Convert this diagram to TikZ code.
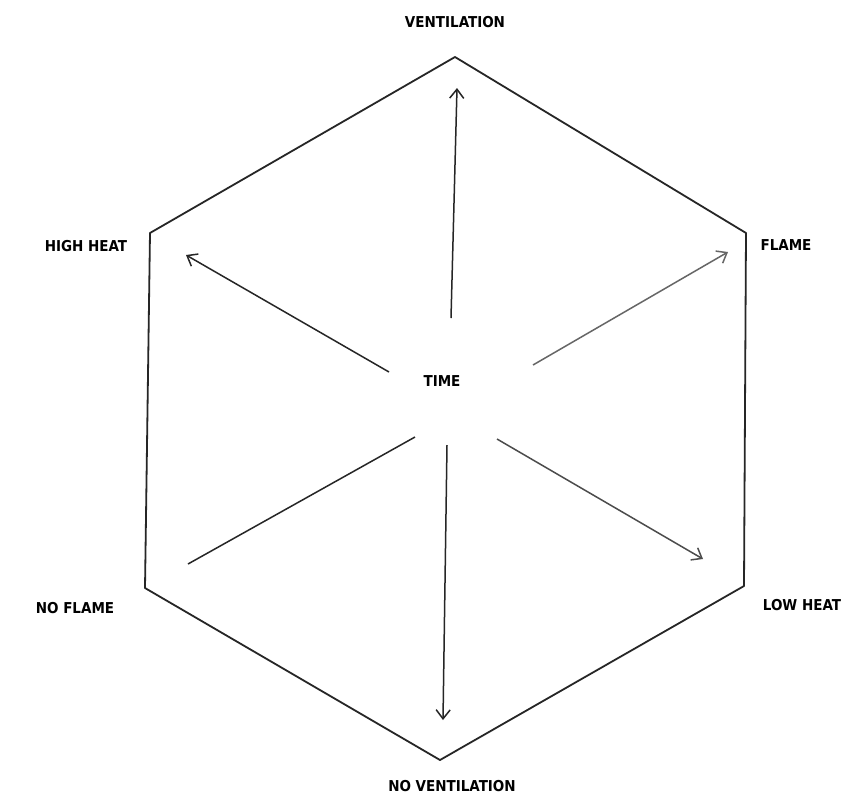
\documentclass[tikz,border=0pt]{standalone}
\usepackage{fontspec}
\newfontfamily\lbl{DejaVu Sans Condensed}[BoldFont={DejaVu Sans Condensed Bold}]
\usetikzlibrary{arrows.meta}
\begin{document}
\begin{tikzpicture}[x=1pt,y=-1pt,
  hexline/.style={line width=1.8pt,black!85},
  spoke/.style={line width=1.5pt,black!85},
  arr/.style={spoke,-{Straight Barb[length=9pt,width=14pt,line width=1.5pt]}},
  lbl/.style={font=\lbl\bfseries\fontsize{15}{16}\selectfont,inner sep=0pt}]
\useasboundingbox (0,0) rectangle (841,796);
\fill[white] (0,0) rectangle (841,796);
% hexagon vertices
\coordinate (T) at (455,57);
\coordinate (UR) at (746,233);
\coordinate (LR) at (744,586);
\coordinate (B) at (440,760);
\coordinate (LL) at (145,588);
\coordinate (UL) at (150,233);
\draw[hexline,line join=round] (T) -- (UR) -- (LR) -- (B) -- (LL) -- (UL) -- cycle;
% labels
\node[lbl] (ven) at (455,22) {VENTILATION};
\node[lbl] (fla) at (786,245) {FLAME};
\node[lbl] (low) at (802,605) {LOW HEAT};
\node[lbl] (nov) at (452,786) {NO VENTILATION};
\node[lbl] (nof) at (75,608) {NO FLAME};
\node[lbl] (hig) at (86,246) {HIGH HEAT};
\node[lbl] (time) at (442,381) {TIME};
% spoke endpoints
\coordinate (s1) at (451,318);
\coordinate (e1) at (457,88);
\coordinate (s2) at (389,372);
\coordinate (e2) at (186,255);
\coordinate (s3) at (533,365);
\coordinate (e3) at (728,252);
\coordinate (s4) at (497,439);
\coordinate (e4) at (703,559);
\coordinate (s5) at (447,445);
\coordinate (e5) at (443,720);
\coordinate (s6) at (415,437);
\coordinate (e6) at (188,564);
\draw[arr] (s1) -- (e1);
\draw[arr] (s2) -- (e2);
\draw[arr,black!60] (s3) -- (e3);
\draw[arr,black!70] (s4) -- (e4);
\draw[arr] (s5) -- (e5);
\draw[spoke] (s6) -- (e6);
\end{tikzpicture}
\end{document}
